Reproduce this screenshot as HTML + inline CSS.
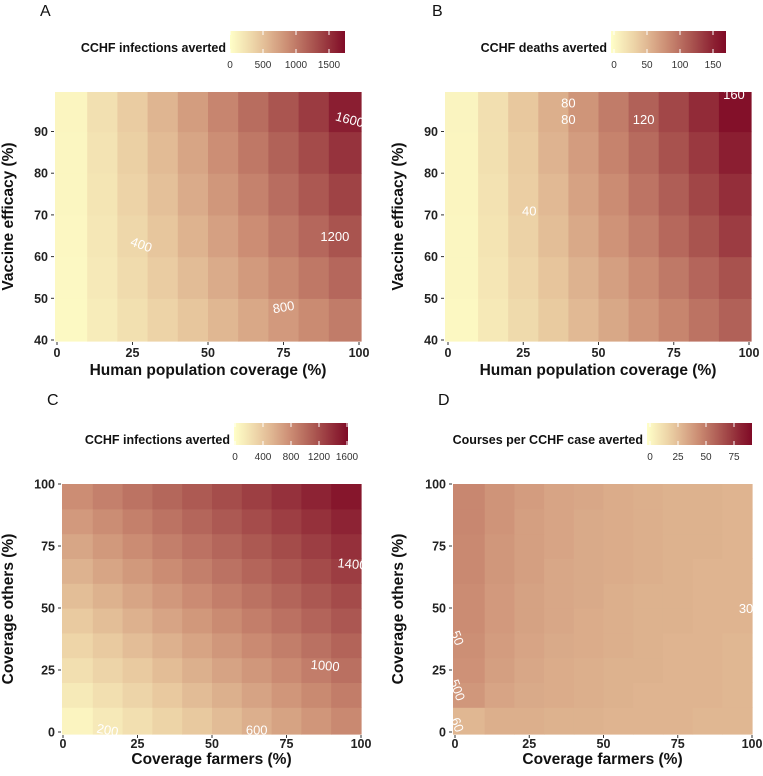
<!DOCTYPE html>
<html><head><meta charset="utf-8"><style>
html,body{margin:0;padding:0;background:#fff;}
svg text{font-family:"Liberation Sans",Arial,sans-serif;}
</style></head><body>
<svg id="fig" width="763" height="771" viewBox="0 0 763 771" xmlns="http://www.w3.org/2000/svg"></svg>
<script>
// ---------- Panel A data: infections averted, rows = vaccine efficacy, cols = coverage ----------
const aCols = [5,15,25,35,45,55,65,75,85,95];
const aRows = [45,55,65,75,85,95];
const aVals = [
 [52,156,260,364,468,572,676,780,884,988],
 [60,179,298,417,536,655,774,893,1012,1131],
 [67,200,333,466,599,732,865,998,1131,1264],
 [73,218,363,508,653,798,943,1088,1233,1378],
 [78,234,390,546,702,858,1014,1170,1326,1482],
 [84,252,420,588,756,924,1092,1260,1428,1620]];
const aTicksX = [0,25,50,75,100];
const aTicksY = [40,50,60,70,80,90];
const aLegTicks = [0,500,1000,1500];
const aLabels = [["400",28,63,20],["800",75,48,-10],["1200",92,65,0],["1600",97,93,15]];
// ---------- Panel B data: deaths averted ----------
const bCols = [5,15,25,35,45,55,65,75,85,95];
const bRows = [45,55,65,75,85,95];
const bVals = [
 [6,18,30,42,54,66,78,90,102,114],
 [7,20,33,46,59,72,85,98,111,124],
 [7,22,36,51,65,80,94,109,123,138],
 [8,23,39,54,70,85,101,116,132,147],
 [8,25,41,58,74,91,107,124,140,157],
 [9,26,44,61,79,96,114,131,149,166]];
const bLegTicks = [0,50,100,150];
const bLabels = [["40",27,71,0],["80",40,93,0],["80",40,97,0],["120",65,93,0],["160",95,99,0]];
// ---------- Panel C data ----------
const cCols = [5,15,25,35,45,55,65,75,85,95];
const cRows = [5,15,25,35,45,55,65,75,85,95];
const cVals = [
 [82,165,248,331,414,497,580,663,746,829],
 [162,245,328,411,494,577,660,743,826,909],
 [242,325,408,491,574,657,740,823,906,989],
 [322,405,488,571,654,737,820,903,986,1069],
 [402,485,568,651,734,817,900,983,1066,1149],
 [482,565,648,731,814,897,980,1063,1146,1229],
 [562,645,728,811,894,977,1060,1143,1226,1309],
 [642,725,808,891,974,1057,1140,1223,1306,1389],
 [722,805,888,971,1054,1137,1220,1303,1386,1469],
 [802,885,968,1051,1134,1217,1300,1383,1466,1549]];
const cTicks = [0,25,50,75,100];
const cLegTicks = [0,400,800,1200,1600];
const cLabels = [["200",15,1,10],["600",65,1,0],["1000",88,27,5],["1400",97,68,5]];
// ---------- Panel D data ----------
const dCols = [5,15,25,35,45,55,65,75,85,95];
const dRows = [5,15,25,35,45,55,65,75,85,95];
const dVals = [
 [30,33,33,32,32,31,31,31,30,30],
 [42,37,35,34,33,32,31,31,31,30],
 [44,39,36,34,33,32,32,31,31,30],
 [45,40,37,35,34,33,32,31,31,30],
 [46,41,38,36,34,33,32,32,31,31],
 [46,41,38,36,35,33,32,32,31,31],
 [47,42,39,36,35,34,33,32,31,31],
 [47,42,39,37,35,34,33,32,32,31],
 [48,43,39,37,35,34,33,32,32,31],
 [48,43,40,37,36,34,33,32,32,31]];
const dLegTicks = [0,25,50,75];
const dLabels = [["30",98,50,0],["50",1,38,70],["500",1,17,70],["60",1,3,70]];

const NS="http://www.w3.org/2000/svg";
const svg=document.getElementById('fig');
function mk(tag,attrs,parent){const e=document.createElementNS(NS,tag);for(const k in attrs)e.setAttribute(k,attrs[k]);(parent||svg).appendChild(e);return e;}
const stops=[[0,[255,255,200]],[0.25,[233,202,160]],[0.5,[203,140,115]],[0.75,[165,77,75]],[1,[127,10,38]]];
function col(t){t=Math.max(0,Math.min(1,t));for(let i=1;i<stops.length;i++){if(t<=stops[i][0]){const a=stops[i-1],b=stops[i];const u=(t-a[0])/(b[0]-a[0]);const c=a[1].map((v,j)=>Math.round(v+(b[1][j]-v)*u));return `rgb(${c[0]},${c[1]},${c[2]})`;}}return 'rgb(127,10,38)';}
let gid=0;
function panel(p){
  const g=mk('g',{});
  
  
  const xs=v=>p.x0+v*p.kx, ys=v=>p.yb-(v-p.ymin)*p.ky;
  const cells=mk('g',{},g);
  
  
  const cw=p.cols[1]-p.cols[0], rh=p.rows[1]-p.rows[0];
  p.rows.forEach((r,i)=>p.cols.forEach((c,j)=>{
    let xa=xs(c-cw/2),xb=xs(c+cw/2),ya=ys(r+rh/2),yb=ys(r-rh/2);
    if(j===0)xa=p.L; if(j===p.cols.length-1)xb=p.R;
    if(i===0)yb=p.B; if(i===p.rows.length-1)ya=p.T;
    xa=Math.max(xa,p.L);xb=Math.min(xb,p.R);ya=Math.max(ya,p.T);yb=Math.min(yb,p.B);
    const rc=mk('rect',{x:xa,y:ya,width:xb-xa+0.6,height:yb-ya+0.6,fill:col(p.vals[i][j]/p.max)},cells);
    
    
  }));
  p.labels.forEach(l=>{
    const t=mk('text',{x:xs(l[1]),y:ys(l[2])+5,fill:'#fff','font-size':13,'text-anchor':'middle',transform:`rotate(${l[3]} ${xs(l[1])} ${ys(l[2])})`},g);
    t.textContent=l[0];
    
    
  });
  p.xt.forEach(v=>{
    mk('line',{x1:xs(v),x2:xs(v),y1:p.B+1,y2:p.B+4,stroke:'#333','stroke-width':1},g);
    const t=mk('text',{x:xs(v),y:p.B+p.tk,'font-size':12.5,'font-weight':'bold','text-anchor':'middle',fill:'#222'},g);
    t.textContent=v;
    
    
  });
  p.yt.forEach(v=>{
    mk('line',{x1:p.L-4,x2:p.L-1,y1:ys(v),y2:ys(v),stroke:'#333','stroke-width':1},g);
    const t=mk('text',{x:p.L-7,y:ys(v)+4.5,'font-size':12.5,'font-weight':'bold','text-anchor':'end',fill:'#222'},g);
    t.textContent=v;
    
    
  });
  const xt=mk('text',{x:(p.L+p.R)/2,y:p.B+p.tt,'font-size':15.5,'font-weight':'bold','text-anchor':'middle',fill:'#111'},g);
  xt.textContent=p.xtitle;
  
  
  const cy=(p.T+p.B)/2;
  const yt=mk('text',{x:p.ytx,y:cy,'font-size':15.5,'font-weight':'bold','text-anchor':'middle',fill:'#111',transform:`rotate(-90 ${p.ytx} ${cy})`},g);
  yt.textContent=p.ytitle;
  
  
  const pl=mk('text',{x:p.tagx,y:p.tagy,'font-size':16,fill:'#111'},g);
  pl.textContent=p.tag;
  
  
  const lg=mk('g',{},g);
  
  
  const id='lg'+(gid++);
  const defs=mk('defs',{},lg);
  const grad=mk('linearGradient',{id:id,x1:0,x2:1,y1:0,y2:0},defs);
  const lmax=(p.lb1-p.lb0)/p.lk;
  for(let i=0;i<=10;i++){mk('stop',{offset:i/10,'stop-color':col(i/10*lmax/p.max)},grad);}
  mk('rect',{x:p.lb0,y:p.lt,width:p.lb1-p.lb0,height:22,fill:`url(#${id})`},lg);
  p.legTicks.forEach(v=>{
    const x=p.l0+v*p.lk;
    mk('line',{x1:x,x2:x,y1:p.lt,y2:p.lt+4,stroke:'#fff','stroke-width':1},lg);
    mk('line',{x1:x,x2:x,y1:p.lt+18,y2:p.lt+22,stroke:'#fff','stroke-width':1},lg);
    const t=mk('text',{x:x,y:p.lt+37,'font-size':10,'text-anchor':'middle',fill:'#333'},lg);
    t.textContent=v;
    
    
  });
  const lt=mk('text',{x:p.lb0-4,y:p.lt+21,'font-size':12.5,'font-weight':'bold','text-anchor':'end',fill:'#111'},lg);
  lt.textContent=p.legTitle;
  
  
}
panel({name:'panel-a',tag:'A',tagx:40,tagy:16,cols:aCols,rows:aRows,vals:aVals,max:1750,labels:aLabels,
 L:55,R:361,T:92,B:341,x0:57,kx:3.02,yb:340,ymin:40,ky:4.17,xt:aTicksX,yt:aTicksY,tk:16,tt:34,
 xtitle:'Human population coverage (%)',ytitle:'Vaccine efficacy (%)',ytx:13,
 lb0:230,lb1:345,lt:31,l0:230,lk:33/500,legTicks:aLegTicks,legTitle:'CCHF infections averted'});
panel({name:'panel-b',tag:'B',tagx:432,tagy:16,cols:bCols,rows:bRows,vals:bVals,max:170,labels:bLabels,
 L:445,R:751,T:92,B:341,x0:448,kx:3.01,yb:340,ymin:40,ky:4.17,xt:aTicksX,yt:aTicksY,tk:16,tt:34,
 xtitle:'Human population coverage (%)',ytitle:'Vaccine efficacy (%)',ytx:403,
 lb0:611,lb1:726,lt:31,l0:614,lk:33/50,legTicks:bLegTicks,legTitle:'CCHF deaths averted'});
panel({name:'panel-c',tag:'C',tagx:47,tagy:405,cols:cCols,rows:cRows,vals:cVals,max:1620,labels:cLabels,
 L:62,R:361,T:484,B:734,x0:63,kx:2.98,yb:732,ymin:0,ky:2.48,xt:cTicks,yt:cTicks,tk:14,tt:30,
 xtitle:'Coverage farmers (%)',ytitle:'Coverage others (%)',ytx:13,
 lb0:234,lb1:348,lt:423,l0:235,lk:28/400,legTicks:cLegTicks,legTitle:'CCHF infections averted'});
panel({name:'panel-d',tag:'D',tagx:438,tagy:405,cols:dCols,rows:dRows,vals:dVals,max:92,labels:dLabels,
 L:453,R:752,T:484,B:734,x0:455,kx:2.97,yb:732,ymin:0,ky:2.48,xt:cTicks,yt:cTicks,tk:14,tt:30,
 xtitle:'Coverage farmers (%)',ytitle:'Coverage others (%)',ytx:403,
 lb0:647,lb1:752,lt:423,l0:650,lk:28/25,legTicks:dLegTicks,legTitle:'Courses per CCHF case averted'});
</script>
</body></html>
